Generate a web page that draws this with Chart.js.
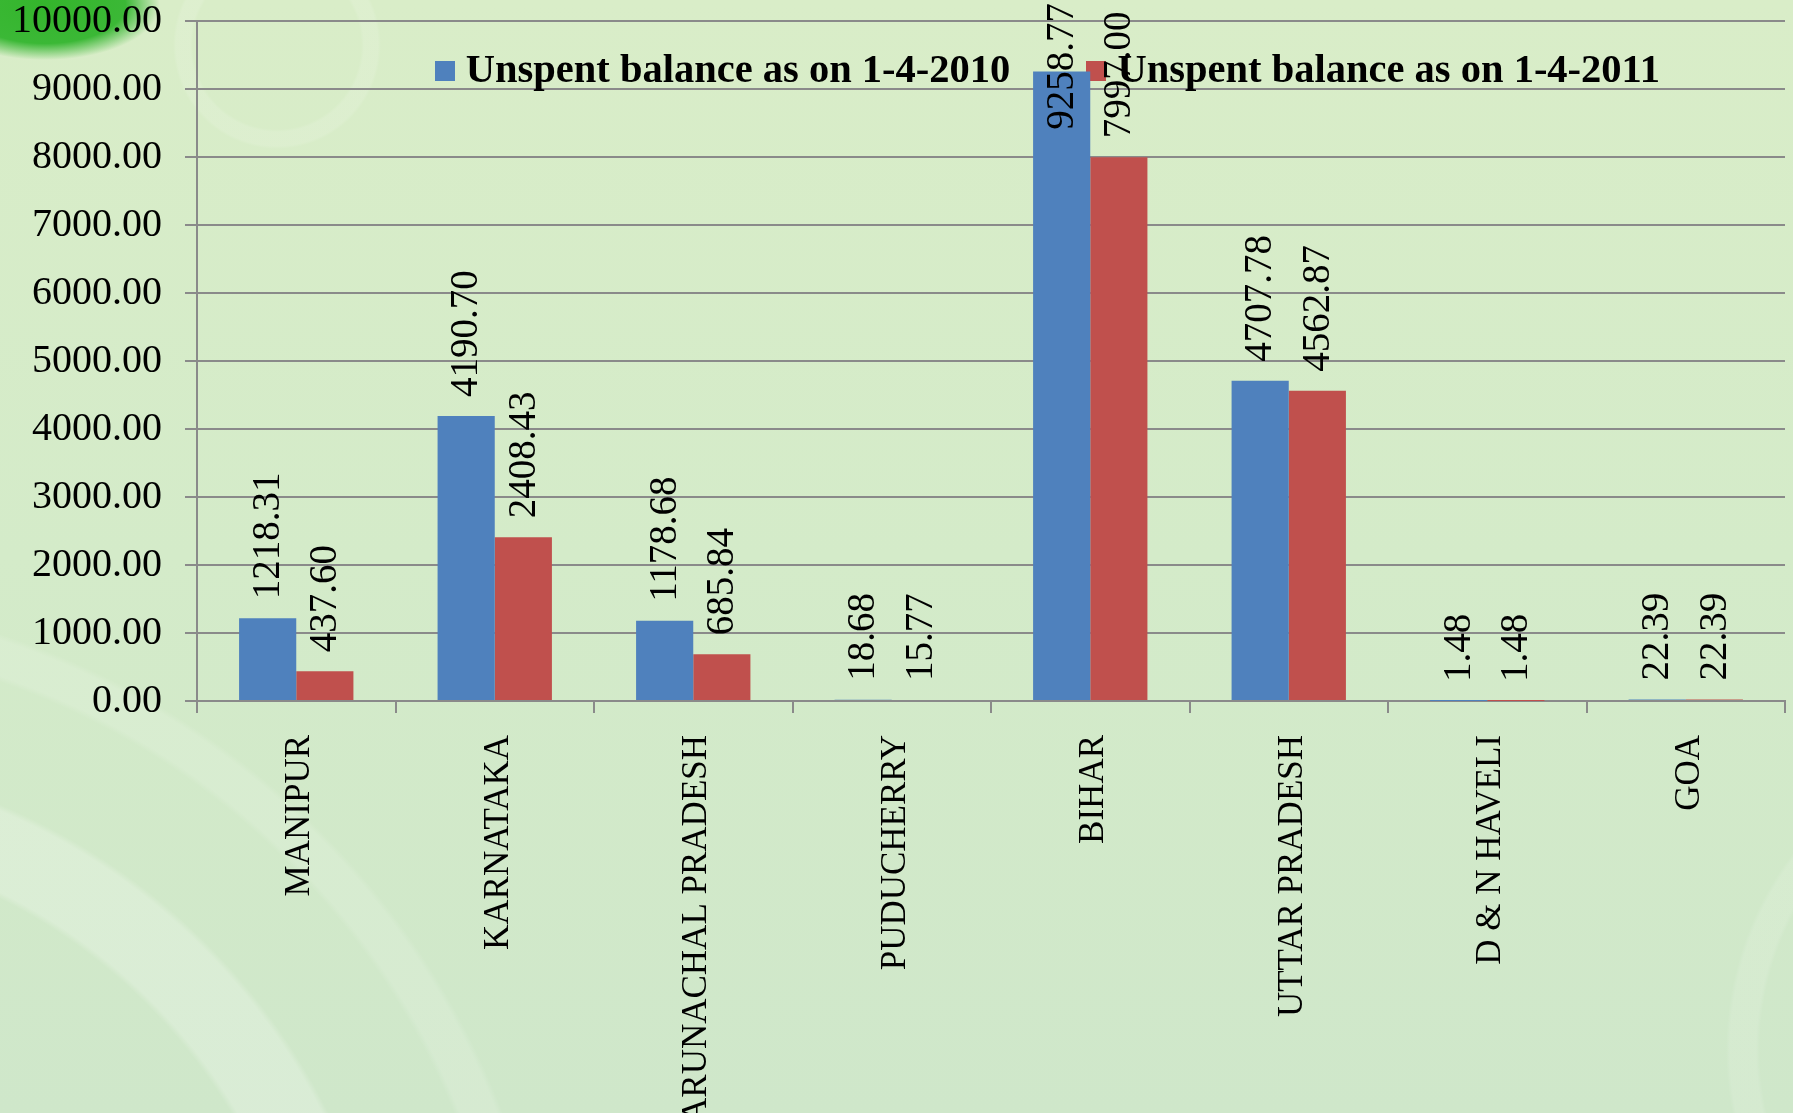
<!DOCTYPE html>
<html><head><meta charset="utf-8">
<script src="https://cdn.jsdelivr.net/npm/chart.js@4.4.1/dist/chart.umd.min.js"></script>
<style>
html,body{margin:0;padding:0;width:1793px;height:1113px;overflow:hidden;}
body{
  background:
    radial-gradient(ellipse 115px 55px at 45px 5px, #34b52c 0%, #3bb836 70%, rgba(59,184,54,0) 100%),
    radial-gradient(circle at 277px 45px, rgba(255,255,255,0) 84px, rgba(255,255,255,0.12) 87px, rgba(255,255,255,0.12) 101px, rgba(255,255,255,0) 104px),
    radial-gradient(circle at -250px 1400px, rgba(255,255,255,0) 560px, rgba(255,255,255,0.22) 566px, rgba(255,255,255,0.22) 640px, rgba(255,255,255,0) 646px),
    radial-gradient(circle at -250px 1400px, rgba(255,255,255,0) 760px, rgba(255,255,255,0.14) 766px, rgba(255,255,255,0.14) 800px, rgba(255,255,255,0) 806px),
    radial-gradient(circle at 2050px 1050px, rgba(255,255,255,0) 290px, rgba(255,255,255,0.12) 294px, rgba(255,255,255,0.12) 320px, rgba(255,255,255,0) 324px),
    linear-gradient(180deg, #d9edc8 0%, #d4ebc9 50%, #cfe7ca 100%);
}
#wrap{position:relative;width:1793px;height:1113px;}
canvas{display:block;}
</style></head><body><div id="wrap"><canvas id="c" width="1793" height="1113"></canvas></div>
<script>
const categories = ['MANIPUR','KARNATAKA','ARUNACHAL PRADESH','PUDUCHERRY','BIHAR','UTTAR PRADESH','D & N HAVELI','GOA'];
const seriesNames = ['Unspent balance as on 1-4-2010','Unspent balance as on 1-4-2011'];
const seriesColors = ['#4F81BD', '#C0504D'];
const balance2010 = [1218.31, 4190.70, 1178.68, 18.68, 9258.77, 4707.78, 1.48, 22.39];
const balance2011 = [437.60, 2408.43, 685.84, 15.77, 7997.00, 4562.87, 1.48, 22.39];
const yMin = 0, yMax = 10000, yStep = 1000;

const SERIF = '"Liberation Serif", "DejaVu Serif", serif';
const GRID = '#8a8a8a';

// square legend markers
const legendMarkers = seriesColors.map(c => {
  const cv = document.createElement('canvas');
  cv.width = 20; cv.height = 20;
  const g = cv.getContext('2d');
  g.fillStyle = c; g.fillRect(0, 0, 20, 20);
  return cv;
});

const valueLabels = {
  id: 'valueLabels',
  afterDatasetsDraw(chart) {
    const ctx = chart.ctx;
    ctx.save();
    ctx.font = '39px ' + SERIF;
    ctx.fillStyle = '#000';
    ctx.textAlign = 'left';
    ctx.textBaseline = 'middle';
    chart.data.datasets.forEach((ds, i) => {
      chart.getDatasetMeta(i).data.forEach((bar, j) => {
        const txt = ds.data[j].toFixed(2);
        const w = ctx.measureText(txt).width;
        let start = bar.y - 19;
        if (start - w < 3) start = 3 + w;
        ctx.save();
        ctx.translate(bar.x + 1, start);
        ctx.rotate(-Math.PI / 2);
        ctx.fillText(txt, 0, 0);
        ctx.restore();
      });
    });
    ctx.restore();
  }
};

const legendPlace = {
  id: 'legendPlace',
  beforeLayout(chart) {
    const lg = chart.legend;
    if (lg && !lg._patched) {
      const fit = lg.fit;
      lg.fit = function () { fit.call(this); this.height = 0; };
      lg._patched = true;
    }
  },
  afterLayout(chart) {
    const lg = chart.legend;
    if (!lg) return;
    const w = lg.width;
    lg.left = 443.5 - 85;
    lg.right = lg.left + w;
    lg.top = -34;
    lg.bottom = lg.top + 220;
  }
};

new Chart(document.getElementById('c'), {
  type: 'bar',
  data: {
    labels: categories,
    datasets: [
      { label: seriesNames[0], data: balance2010, backgroundColor: seriesColors[0], borderWidth: 0,
        categoryPercentage: 0.576, barPercentage: 1.0 },
      { label: seriesNames[1], data: balance2011, backgroundColor: seriesColors[1], borderWidth: 0,
        categoryPercentage: 0.576, barPercentage: 1.0 }
    ]
  },
  options: {
    responsive: false,
    animation: false,
    devicePixelRatio: 1,
    layout: { padding: { top: 21, right: 8, left: 0, bottom: 0 } },
    plugins: {
      legend: {
        position: 'top',
        align: 'start',
        labels: {
          usePointStyle: true, pointStyleWidth: 2, boxHeight: 20, padding: 85,
          color: '#000',
          font: { family: SERIF, size: 40.5, weight: 'bold' },
          generateLabels(chart) {
            const items = Chart.defaults.plugins.legend.labels.generateLabels(chart);
            items.forEach((it, i) => { it.pointStyle = legendMarkers[i]; });
            return items;
          }
        }
      },
      tooltip: { enabled: false }
    },
    scales: {
      x: {
        grid: { display: true, drawOnChartArea: false, drawTicks: true, tickLength: 12, color: GRID, lineWidth: 2, offset: true },
        border: { display: true, color: GRID, width: 2 },
        ticks: { autoSkip: false, maxRotation: 90, minRotation: 90, padding: 22, labelOffset: 4, color: '#000',
                 font: { family: SERIF, size: 35, lineHeight: 1 } },
        afterFit(scale) { scale.height = 412; }
      },
      y: {
        min: yMin, max: yMax,
        grid: { color: GRID, lineWidth: 2, tickLength: 12, drawTicks: true },
        border: { display: true, color: GRID, width: 2 },
        ticks: { stepSize: yStep, padding: 23, color: '#000',
                 font: { family: SERIF, size: 40, lineHeight: 1 },
                 callback: v => Number(v).toFixed(2) },
        afterFit(scale) { scale.width = 197; scale.paddingTop = 0; scale.paddingBottom = 0; }
      }
    }
  },
  plugins: [valueLabels, legendPlace]
});
</script>
</body></html>
